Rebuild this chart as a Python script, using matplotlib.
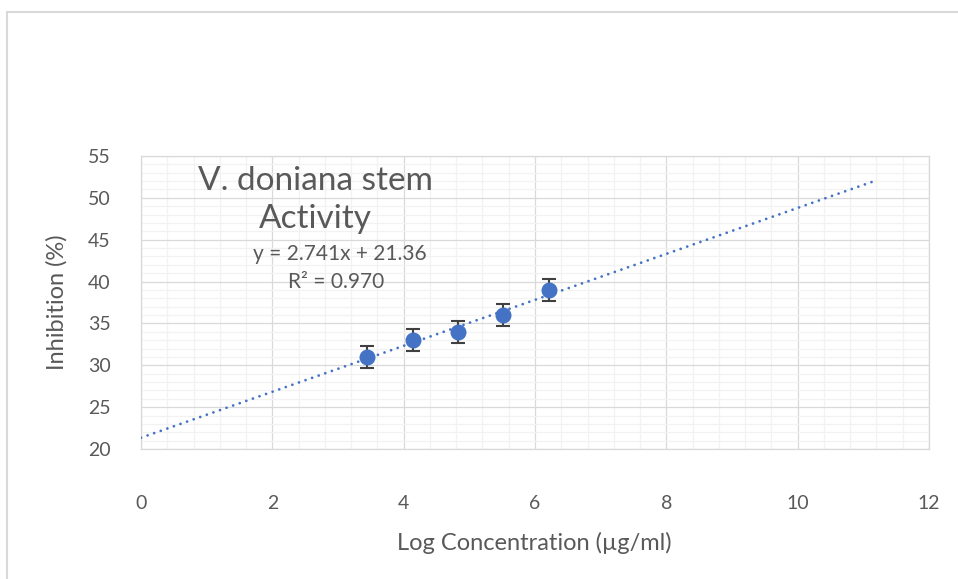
import numpy as np
import matplotlib
matplotlib.use("Agg")
import matplotlib.pyplot as plt
from matplotlib.ticker import MultipleLocator
from matplotlib.patches import Rectangle

plt.rcParams['font.family'] = ['Lato', 'DejaVu Sans']

# data
log_conc = [3.44, 4.14, 4.83, 5.52, 6.21]
inhibition = [31.0, 33.0, 34.0, 36.0, 39.0]
err = [1.3, 1.3, 1.3, 1.3, 1.3]
trend_end = 11.15

title_lines = ["V. doniana stem", "Activity"]
eq_text = "y = 2.741x + 21.36"
r2_text = "R² = 0.970"

text_col = '#595959'
blue = '#4472C4'

fig = plt.figure(figsize=(9.58, 5.79), dpi=100)
fig.patch.set_facecolor('white')

# chart frame (cut off on right and bottom in the original)
fig.patches.append(Rectangle((7 / 958, -0.05), 1.2, 1 - 12 / 579 + 0.05,
                             transform=fig.transFigure, fill=False,
                             edgecolor='#d9d9d9', linewidth=1.5))

ax = fig.add_axes([141 / 958, 1 - 449 / 579, 788 / 958, 293 / 579])

# trendline, round dots like excel
k, b = np.polyfit(log_conc, inhibition, 1)
xt = np.array([0, trend_end])
ax.plot(xt, k * xt + b, color=blue, linewidth=2.0,
        linestyle=(0, (0.01, 2.5)), dash_capstyle='round', zorder=3)

ax.errorbar(log_conc, inhibition, yerr=err, fmt='o', color=blue,
            markersize=10.5, ecolor='#404040', elinewidth=1.5,
            capsize=5, capthick=1.5, zorder=4)

ax.set_xlim(0, 12)
ax.set_ylim(20, 55)
ax.xaxis.set_major_locator(MultipleLocator(2))
ax.xaxis.set_minor_locator(MultipleLocator(0.4))
ax.yaxis.set_major_locator(MultipleLocator(5))
ax.yaxis.set_minor_locator(MultipleLocator(1))
ax.grid(which='major', color='#d9d9d9', linewidth=0.9)
ax.grid(which='minor', color='#f2f2f2', linewidth=0.9)
ax.set_axisbelow(True)
for s in ax.spines.values():
    s.set_color('#d9d9d9')
    s.set_linewidth(0.9)

ax.tick_params(which='both', length=0, labelsize=14, labelcolor=text_col)
ax.tick_params(axis='x', pad=33)
ax.tick_params(axis='y', pad=22)

ax.set_xlabel("Log Concentration (µg/ml)", fontsize=17, color=text_col, va='center')
ax.xaxis.set_label_coords(0.499, -0.32)
ax.set_ylabel("Inhibition (%)", fontsize=17, color=text_col, va='center')
ax.yaxis.set_label_coords(-0.107, 0.5)

ax.text(2.65, 50.94, title_lines[0], fontsize=24, color=text_col,
        ha='center', va='baseline')
ax.text(2.65, 46.4, title_lines[1], fontsize=24, color=text_col,
        ha='center', va='baseline')
ax.text(3.02, 42.57, eq_text, fontsize=15, color=text_col,
        ha='center', va='baseline')
ax.text(2.97, 39.23, r2_text, fontsize=15, color=text_col,
        ha='center', va='baseline')

fig.savefig('out.png', dpi=100)
